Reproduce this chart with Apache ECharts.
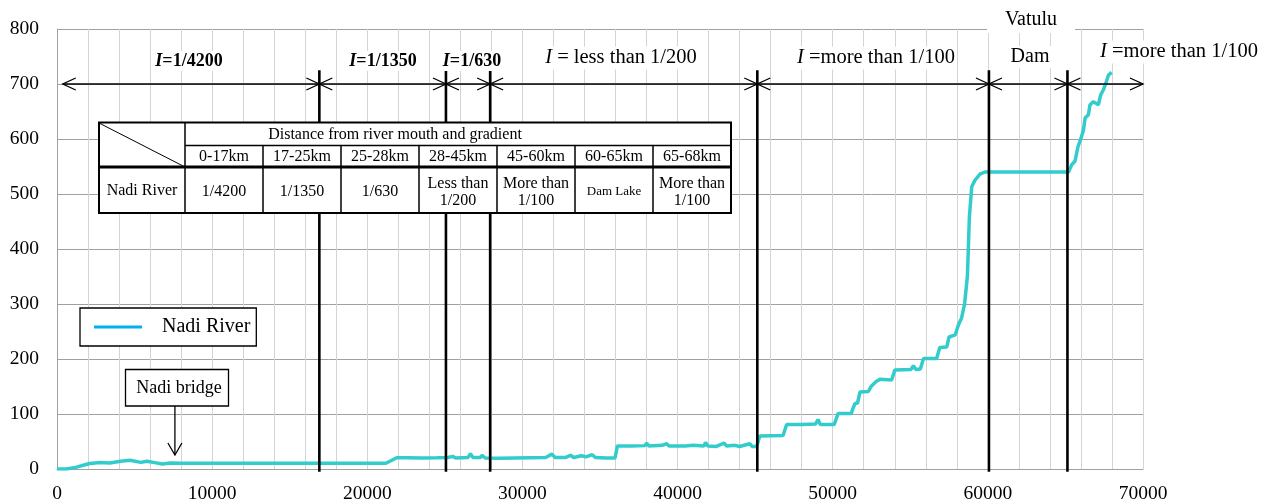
<!DOCTYPE html>
<html><head><meta charset="utf-8">
<script src="https://cdn.jsdelivr.net/npm/echarts@6/dist/echarts.min.js"></script>
<style>html,body{margin:0;padding:0;background:#fff}#c{width:1274px;height:504px}</style>
</head><body><div id="c"></div>
<script>
// ---- data ----
const distances = [
  0, 600, 1200, 2100, 2800, 3400, 4100, 4700, 5400, 5800,
  6200, 6800, 7300, 8000, 10000, 12000, 14000, 16000, 18000, 20000,
  21200, 21900, 22500, 23500, 24500, 25200, 25500, 25700, 26500, 26650,
  26800, 27300, 27400, 27600, 28500, 29500, 30500, 31500, 31900, 32100,
  32800, 33100, 33300, 33800, 34100, 34500, 34700, 35400, 35970, 36120,
  37000, 37900, 38000, 38150, 39000, 39300, 39450, 40500, 41000, 41700,
  41800, 41950, 42500, 43000, 43150, 43700, 44000, 44650, 44800, 45100,
  45300, 46000, 46800, 47030, 48000, 48900, 49050, 49200, 50100, 50350,
  51200, 51300, 51440, 51600, 51760, 52300, 52500, 52800, 53050, 53800,
  54000, 55050, 55200, 55350, 55650, 55850, 56700, 56900, 57350, 57500,
  57900, 58100, 58300, 58500, 58680, 58740, 58810, 58960, 59170, 59490,
  59820, 62000, 65200, 65400, 65620, 65800, 66000, 66160, 66270, 66480,
  66580, 66800, 67120, 67270, 67440, 67600, 67770, 67980
];
const elevations = [
  0, 0, 3, 10, 12, 11, 14, 16, 12, 14,
  12, 9, 11, 10.5, 10.5, 10.5, 10.5, 10.5, 10.5, 10.5,
  10.5, 20.5, 20.5, 20, 20.5, 21, 23, 20, 21, 28,
  21, 21, 25, 20, 19.5, 20, 20.5, 21, 27, 21,
  21, 25, 21, 24, 22, 26, 21, 20, 20, 42,
  42, 42.5, 47, 42, 43, 46, 42, 42, 43, 42,
  48, 42, 41, 47, 42, 43, 41, 46, 41, 41,
  60, 60.5, 61, 81, 81, 82, 90, 81, 81, 101,
  101, 110, 119, 120, 140, 141, 151, 159, 163, 162,
  180, 181, 188, 181, 182, 201, 201, 221, 222, 240,
  244, 262, 274, 300, 350, 398, 459, 513, 525, 536,
  540, 540, 540, 553, 560, 585, 601, 616, 638, 644,
  662, 668, 662, 680, 689, 701, 716, 721
];
const boundaries = [16910, 25070, 27920, 45140, 60070, 65130];
const arrowStart = 370;
const arrowEnd = 70000;
const arrowLevel = 700;
const bridgeDistance = 7600;
const tableColumns = ['0-17km', '17-25km', '25-28km', '28-45km', '45-60km', '60-65km', '65-68km'];
const tableValues = ['1/4200', '1/1350', '1/630', 'Less than\n1/200', 'More than\n1/100', 'Dam Lake', 'More than\n1/100'];
const tableHeader = 'Distance from river mouth and gradient';
const tableRowName = 'Nadi River';

// ---- chart ----
const FONT = '"Liberation Serif", "Times New Roman", serif';
const profile = distances.map((d, i) => [d, elevations[i]]);
const segEdges = [arrowStart].concat(boundaries, [arrowEnd]);
const segments = [];
for (let i = 0; i < segEdges.length - 1; i++) segments.push([segEdges[i], segEdges[i + 1]]);

const chart = echarts.init(document.getElementById('c'), null, {renderer: 'canvas'});

// table graphic
const TZ = 100;
const T = {x0: 99, x1: 185, x2: 731, y0: 122.5, y1: 145.5, y2: 167, y3: 213};
const colW = (T.x2 - T.x1) / 7;
const tbl = [];
tbl.push({type: 'rect', z: TZ, shape: {x: T.x0, y: T.y0, width: T.x2 - T.x0, height: T.y3 - T.y0}, style: {fill: '#fff', stroke: '#000', lineWidth: 2}});
tbl.push({type: 'line', z: TZ + 1, shape: {x1: T.x1, y1: T.y1, x2: T.x2, y2: T.y1}, style: {stroke: '#000', lineWidth: 1.5}});
tbl.push({type: 'line', z: TZ + 1, shape: {x1: T.x0, y1: T.y2, x2: T.x2, y2: T.y2}, style: {stroke: '#000', lineWidth: 3}});
tbl.push({type: 'line', z: TZ + 1, shape: {x1: T.x1, y1: T.y0, x2: T.x1, y2: T.y3}, style: {stroke: '#000', lineWidth: 1.5}});
for (let k = 1; k < 7; k++) {
  const x = T.x1 + k * colW;
  tbl.push({type: 'line', z: TZ + 1, shape: {x1: x, y1: T.y1, x2: x, y2: T.y3}, style: {stroke: '#000', lineWidth: 1.5}});
}
tbl.push({type: 'line', z: TZ + 1, shape: {x1: T.x0 + 1, y1: T.y0 + 1, x2: T.x1, y2: T.y2}, style: {stroke: '#000', lineWidth: 1}});
tbl.push({type: 'text', z: TZ + 2, x: 395, y: 135, style: {text: tableHeader, font: '16px ' + FONT, fill: '#000', align: 'center', verticalAlign: 'middle'}});
tableColumns.forEach((c, k) => {
  tbl.push({type: 'text', z: TZ + 2, x: T.x1 + (k + 0.5) * colW, y: 157, style: {text: c, font: '16px ' + FONT, fill: '#000', align: 'center', verticalAlign: 'middle'}});
});
tbl.push({type: 'text', z: TZ + 2, x: (T.x0 + T.x1) / 2, y: 191, style: {text: tableRowName, font: '16px ' + FONT, fill: '#000', align: 'center', verticalAlign: 'middle'}});
tableValues.forEach((v, k) => {
  const small = v === 'Dam Lake';
  tbl.push({type: 'text', z: TZ + 2, x: T.x1 + (k + 0.5) * colW, y: 192, style: {text: v, font: (small ? '13px ' : '16px ') + FONT, lineHeight: 17, fill: '#000', align: 'center', verticalAlign: 'middle'}});
});

function label(x, y, pre, txt, bold, size) {
  const w = bold ? 'bold' : 'normal';
  return {type: 'text', x: x, y: y, z: 50, style: {
    text: '{i|' + pre + '}{n|' + txt + '}',
    rich: {i: {fontStyle: 'italic', fontWeight: w, fontSize: size, fontFamily: FONT, fill: '#000', color: '#000'},
           n: {fontWeight: w, fontSize: size, fontFamily: FONT, fill: '#000', color: '#000'}},
    font: w + ' ' + size + 'px ' + FONT,
    align: 'center', verticalAlign: 'middle', backgroundColor: '#fff', padding: [1, 2]
  }};
}
function plain(x, y, txt, size) {
  return {type: 'text', x: x, y: y, z: 50, style: {text: txt, font: size + 'px ' + FONT, fill: '#000', align: 'center', verticalAlign: 'middle', backgroundColor: '#fff', padding: [1, 3]}};
}

const graphics = tbl.concat([
  label(189, 61, 'I', '=1/4200', true, 18),
  label(383, 61, 'I', '=1/1350', true, 18),
  label(472, 61, 'I', '=1/630', true, 18),
  label(621, 58, 'I', ' = less than 1/200', false, 20.5),
  label(876, 58, 'I', ' =more than 1/100', false, 20.5),
  label(1179, 52, 'I', ' =more than 1/100', false, 20.5),
  {type: 'rect', z: 49, shape: {x: 987, y: 18, width: 88, height: 15}, style: {fill: '#fff'}},
  plain(1031, 20, 'Vatulu', 20),
  plain(1030, 57, 'Dam', 20),
  {type: 'rect', z: 60, shape: {x: 125.5, y: 369.5, width: 103, height: 36.5}, style: {fill: '#fff', stroke: '#000', lineWidth: 1.3}},
  {type: 'text', z: 61, x: 179, y: 388, style: {text: 'Nadi bridge', font: '18px ' + FONT, fill: '#000', align: 'center', verticalAlign: 'middle'}}
]);

const option = {
  animation: false,
  backgroundColor: '#fff',
  grid: {left: 57, right: 131, top: 29, bottom: 35},
  legend: {
    left: 80, top: 308, padding: [9, 6, 9, 14],
    borderColor: '#000', borderWidth: 1.3, backgroundColor: '#fff',
    itemWidth: 48, itemHeight: 3, icon: 'rect', selectedMode: false,
    data: [{name: 'Nadi River', itemStyle: {color: '#00B0F0'}}],
    textStyle: {fontFamily: FONT, fontSize: 20, color: '#000', padding: [0, 0, 0, 15]}
  },
  xAxis: {
    type: 'value', min: 0, max: 70000, interval: 10000,
    axisLine: {show: true, lineStyle: {color: '#a0a0a0', width: 1}},
    axisTick: {show: false},
    minorTick: {show: false, splitNumber: 5},
    splitLine: {show: true, lineStyle: {color: '#d4d4d4', width: 1}},
    minorSplitLine: {show: true, lineStyle: {color: '#d4d4d4', width: 1}},
    axisLabel: {fontFamily: FONT, fontSize: 19.5, color: '#000', margin: 15, formatter: v => String(v)}
  },
  yAxis: {
    type: 'value', min: 0, max: 800, interval: 100,
    axisLine: {show: true, lineStyle: {color: '#a0a0a0', width: 1}},
    axisTick: {show: false},
    splitLine: {show: true, lineStyle: {color: '#a0a0a0', width: 1}},
    axisLabel: {fontFamily: FONT, fontSize: 19.5, color: '#000', margin: 18, formatter: v => String(v)}
  },
  graphic: graphics,
  series: [
    {
      name: 'Nadi River', type: 'line', data: profile, symbol: 'none', smooth: false, z: 2,
      lineStyle: {color: '#33CCCC', width: 3.5}, itemStyle: {color: '#33CCCC'}
    },
    {
      name: 'boundaries', type: 'custom', z: 4, clip: false, silent: true,
      data: boundaries.map(b => [b, 0]),
      renderItem: function (params, api) {
        const x = api.value(0);
        const p1 = api.coord([x, 725]);
        const p2 = api.coord([x, -5]);
        return {type: 'line', shape: {x1: p1[0], y1: p1[1], x2: p2[0], y2: p2[1]}, style: {stroke: '#000', lineWidth: 2.6}};
      }
    },
    {
      name: 'gradient arrows', type: 'custom', z: 5, clip: false, silent: true,
      data: segments,
      encode: {x: [0, 1]},
      renderItem: function (params, api) {
        const a = api.coord([api.value(0), arrowLevel]);
        const b = api.coord([api.value(1), arrowLevel]);
        const L = 13, H = 6;
        return {type: 'group', children: [
          {type: 'line', shape: {x1: a[0], y1: a[1], x2: b[0], y2: b[1]}, style: {stroke: '#000', lineWidth: 1.3}},
          {type: 'polyline', shape: {points: [[a[0] + L, a[1] - H], [a[0], a[1]], [a[0] + L, a[1] + H]]}, style: {stroke: '#000', lineWidth: 1.3, fill: null}},
          {type: 'polyline', shape: {points: [[b[0] - L, b[1] - H], [b[0], b[1]], [b[0] - L, b[1] + H]]}, style: {stroke: '#000', lineWidth: 1.3, fill: null}}
        ]};
      }
    },
    {
      name: 'bridge', type: 'custom', z: 5, clip: false, silent: true,
      data: [[bridgeDistance, 0]],
      renderItem: function (params, api) {
        const p = api.coord([api.value(0), 0]);
        const tipY = p[1] - 14, topY = p[1] - 63;
        return {type: 'group', children: [
          {type: 'line', shape: {x1: p[0], y1: topY, x2: p[0], y2: tipY}, style: {stroke: '#000', lineWidth: 1.3}},
          {type: 'polyline', shape: {points: [[p[0] - 7, tipY - 12], [p[0], tipY], [p[0] + 7, tipY - 12]]}, style: {stroke: '#000', lineWidth: 1.3, fill: null}}
        ]};
      }
    }
  ]
};
chart.setOption(option);
</script>
</body></html>
